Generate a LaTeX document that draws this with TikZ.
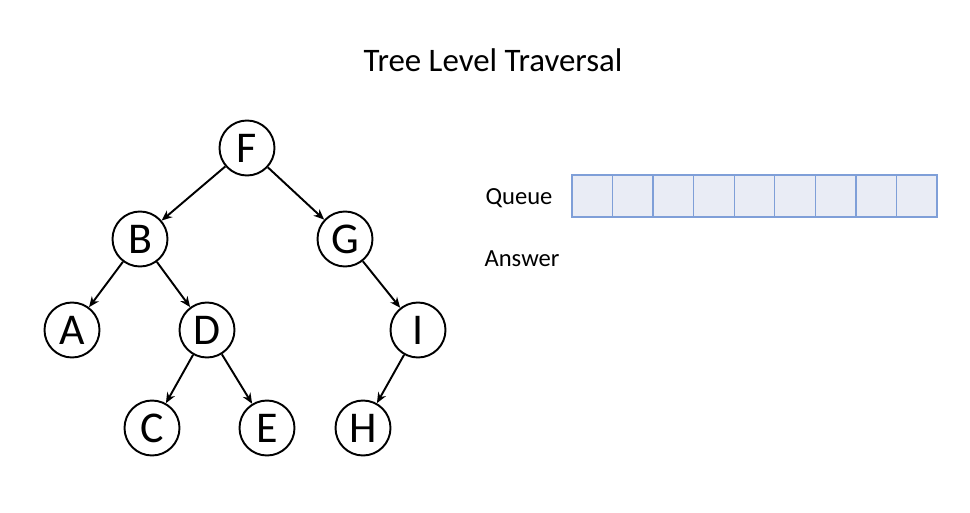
\documentclass[tikz,border=0pt]{standalone}
\usepackage{fontspec}
\setmainfont{Carlito}
\usetikzlibrary{arrows.meta}
\definecolor{cellfill}{HTML}{E9ECF5}
\definecolor{celldraw}{HTML}{7F9FD8}
\tikzset{
  vert/.style = {draw, circle, line width=1.1pt, minimum size=1.1cm, inner sep=0pt, font=\fontsize{25}{25}\selectfont},
  edge/.style = {line width=1.1pt, -{Stealth[length=6pt,width=5pt]}},
  cell/.style = {draw=celldraw, fill=cellfill, line width=0.8pt, minimum width=0.811cm, minimum height=0.84cm, inner sep=0pt},
  lbl/.style = {font=\fontsize{14}{14}\selectfont}
}
\begin{document}
\begin{tikzpicture}
                \useasboundingbox (0,0) rectangle (19.4,10.24);
                \node[font=\fontsize{18.7}{18.7}\selectfont] (title) at (9.86,9.04) {Tree Level Traversal};
                % tree
                \node[vert] (F) at (4.94,7.28) {F};
                \node[vert] (B) at (2.80,5.46) {B};
                \node[vert] (G) at (6.90,5.46) {G};
                \node[vert] (A) at (1.44,3.64) {A};
                \node[vert] (D) at (4.14,3.64) {D};
                \node[vert] (I) at (8.36,3.64) {I};
                \node[vert] (C) at (3.04,1.68) {C};
                \node[vert] (E) at (5.34,1.68) {E};
                \node[vert] (H) at (7.26,1.68) {H};
                \draw[edge] (F) -- (B);
                \draw[edge] (F) -- (G);
                \draw[edge] (B) -- (A);
                \draw[edge] (B) -- (D);
                \draw[edge] (D) -- (C);
                \draw[edge] (D) -- (E);
                \draw[edge] (G) -- (I);
                \draw[edge] (I) -- (H);
                % queue
                \node[lbl] (queue) at (10.38,6.28) {Queue};
                \node[lbl] (answer) at (10.44,5.06) {Answer};
                \foreach \i in {1,...,9}
                    \node[cell] (q\i) at ({11.44+0.811*(\i-0.5)},6.32) {};
            \end{tikzpicture}
\end{document}
